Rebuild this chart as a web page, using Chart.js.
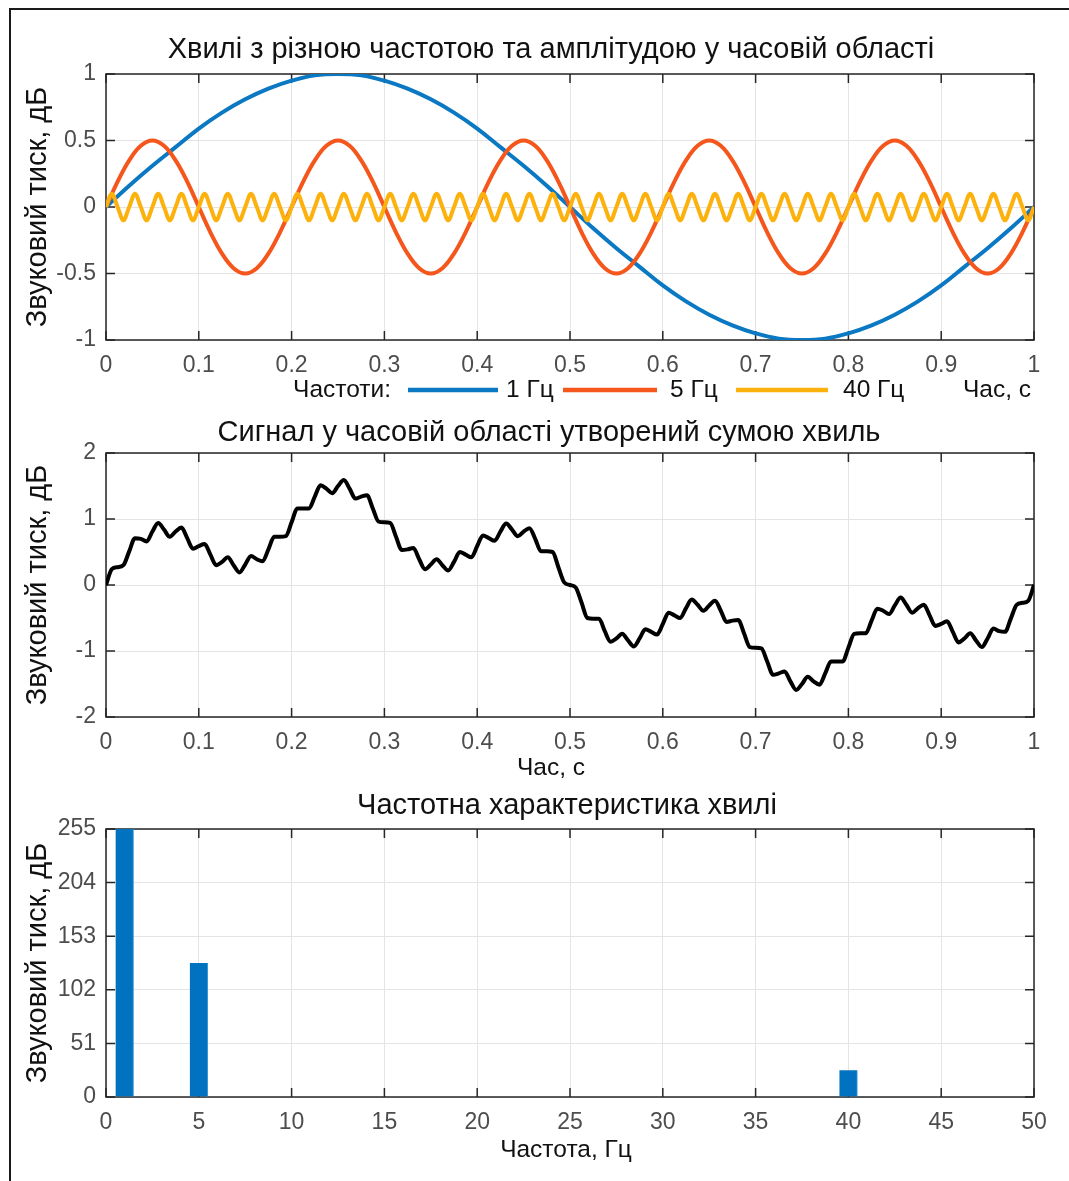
<!DOCTYPE html>
<html>
<head>
<meta charset="utf-8">
<script src="https://cdn.jsdelivr.net/npm/chart.js@4.4.1/dist/chart.umd.min.js"></script>
<style>
  html, body { margin: 0; padding: 0; background: #fff; overflow: hidden; }
  body { width: 1069px; height: 1181px; position: relative; }
  .frame { position: absolute; left: 9px; top: 8px; right: -10px; bottom: -10px;
           border-top: 2px solid #1a1a1a; border-left: 2px solid #1a1a1a; }
  canvas { position: absolute; left: 0; }
  #c1 { top: 0; }
  #c2 { top: 420px; }
  #c3 { top: 790px; }
</style>
</head>
<body>
<div class="frame"></div>
<canvas id="c1" width="1069" height="420"></canvas>
<canvas id="c2" width="1069" height="370"></canvas>
<canvas id="c3" width="1069" height="391"></canvas>
<script>
// хвилі, час 0..1 с
// 1 Гц, крок 0.025 с
const wave1 = [0, 0.16, 0.31, 0.45, 0.59, 0.71, 0.81, 0.89, 0.95, 0.99, 1,
  0.99, 0.95, 0.89, 0.81, 0.71, 0.59, 0.45, 0.31, 0.16, 0,
  -0.16, -0.31, -0.45, -0.59, -0.71, -0.81, -0.89, -0.95, -0.99, -1,
  -0.99, -0.95, -0.89, -0.81, -0.71, -0.59, -0.45, -0.31, -0.16, 0];

// 5 Гц, крок 0.0125 с
const wave5 = [
  0, 0.19, 0.35, 0.46, 0.5, 0.46, 0.35, 0.19, 0, -0.19, -0.35, -0.46, -0.5, -0.46, -0.35, -0.19,
  0, 0.19, 0.35, 0.46, 0.5, 0.46, 0.35, 0.19, 0, -0.19, -0.35, -0.46, -0.5, -0.46, -0.35, -0.19,
  0, 0.19, 0.35, 0.46, 0.5, 0.46, 0.35, 0.19, 0, -0.19, -0.35, -0.46, -0.5, -0.46, -0.35, -0.19,
  0, 0.19, 0.35, 0.46, 0.5, 0.46, 0.35, 0.19, 0, -0.19, -0.35, -0.46, -0.5, -0.46, -0.35, -0.19,
  0, 0.19, 0.35, 0.46, 0.5, 0.46, 0.35, 0.19, 0, -0.19, -0.35, -0.46, -0.5, -0.46, -0.35, -0.19,
  0];

// 40 Гц, крок 1/160 с
const wave40 = [
  0, 0.1, 0, -0.1, 0, 0.1, 0, -0.1, 0, 0.1, 0, -0.1, 0, 0.1, 0, -0.1,
  0, 0.1, 0, -0.1, 0, 0.1, 0, -0.1, 0, 0.1, 0, -0.1, 0, 0.1, 0, -0.1,
  0, 0.1, 0, -0.1, 0, 0.1, 0, -0.1, 0, 0.1, 0, -0.1, 0, 0.1, 0, -0.1,
  0, 0.1, 0, -0.1, 0, 0.1, 0, -0.1, 0, 0.1, 0, -0.1, 0, 0.1, 0, -0.1,
  0, 0.1, 0, -0.1, 0, 0.1, 0, -0.1, 0, 0.1, 0, -0.1, 0, 0.1, 0, -0.1,
  0, 0.1, 0, -0.1, 0, 0.1, 0, -0.1, 0, 0.1, 0, -0.1, 0, 0.1, 0, -0.1,
  0, 0.1, 0, -0.1, 0, 0.1, 0, -0.1, 0, 0.1, 0, -0.1, 0, 0.1, 0, -0.1,
  0, 0.1, 0, -0.1, 0, 0.1, 0, -0.1, 0, 0.1, 0, -0.1, 0, 0.1, 0, -0.1,
  0, 0.1, 0, -0.1, 0, 0.1, 0, -0.1, 0, 0.1, 0, -0.1, 0, 0.1, 0, -0.1,
  0, 0.1, 0, -0.1, 0, 0.1, 0, -0.1, 0, 0.1, 0, -0.1, 0, 0.1, 0, -0.1,
  0];

// сума хвиль, крок 1/160 с
const signal = [
  0, 0.24, 0.27, 0.30, 0.51, 0.71, 0.70, 0.66, 0.81, 0.94, 0.84,
  0.73, 0.81, 0.87, 0.71, 0.55, 0.59, 0.62, 0.46, 0.30, 0.35,
  0.42, 0.30, 0.19, 0.31, 0.44, 0.39, 0.36, 0.54, 0.73, 0.73,
  0.74, 0.95, 1.16, 1.16, 1.16, 1.34, 1.51, 1.46, 1.39, 1.50,
  1.59, 1.46, 1.31, 1.34, 1.36, 1.16, 0.96, 0.95, 0.94, 0.73,
  0.53, 0.54, 0.56, 0.39, 0.24, 0.31, 0.39, 0.30, 0.22, 0.35,
  0.50, 0.46, 0.42, 0.59, 0.75, 0.71, 0.67, 0.81, 0.93, 0.84,
  0.74, 0.81, 0.86, 0.70, 0.51, 0.51, 0.50, 0.27, 0.04, 0,
  -0.04, -0.27, -0.50, -0.51, -0.51, -0.70, -0.86, -0.81, -0.74, -0.84,
  -0.93, -0.81, -0.67, -0.71, -0.75, -0.59, -0.42, -0.46, -0.50, -0.35,
  -0.22, -0.30, -0.39, -0.31, -0.24, -0.39, -0.56, -0.54, -0.53, -0.73,
  -0.94, -0.95, -0.96, -1.16, -1.36, -1.34, -1.31, -1.46, -1.59, -1.50,
  -1.39, -1.46, -1.51, -1.34, -1.16, -1.16, -1.16, -0.95, -0.74, -0.73,
  -0.73, -0.54, -0.36, -0.39, -0.44, -0.31, -0.19, -0.30, -0.42, -0.35,
  -0.30, -0.46, -0.62, -0.59, -0.55, -0.71, -0.87, -0.81, -0.73, -0.84,
  -0.94, -0.81, -0.66, -0.70, -0.71, -0.51, -0.30, -0.27, -0.24, 0];

// спектр
const freqs = [1, 5, 40];
const magnitudes = [255, 127.5, 25.5];

const freqLabels = ['1 Гц', '5 Гц', '40 Гц'];
const timeTicks = [0, 0.1, 0.2, 0.3, 0.4, 0.5, 0.6, 0.7, 0.8, 0.9, 1];
const waveTicks = [-1, -0.5, 0, 0.5, 1];
const signalTicks = [-2, -1, 0, 1, 2];
const freqTicks = [0, 5, 10, 15, 20, 25, 30, 35, 40, 45, 50];
const magTicks = [0, 51, 102, 153, 204, 255];

const FONT = '"Liberation Sans", Arial, Helvetica, sans-serif';
const BLUE = '#0a78c2', ORANGE = '#f4561c', YELLOW = '#fdb10d';
const yTitle = 'Звуковий тиск, дБ';
const TITLE_SIZE = 29;

Chart.defaults.font.family = FONT;
Chart.defaults.color = '#4d4d4d';

const toPoints = vals => vals.map((v, i) => ({ x: i / (vals.length - 1), y: v }));

// рамка осей з внутрішніми рисками
const boxTicks = {
  id: 'boxTicks',
  beforeDatasetsDraw(chart) {
    const { ctx, chartArea: a, scales: { x, y } } = chart;
    ctx.save();
    ctx.strokeStyle = '#262626';
    ctx.lineWidth = 1.5;
    ctx.strokeRect(a.left, a.top, a.right - a.left, a.bottom - a.top);
    ctx.beginPath();
    x.ticks.forEach(t => {
      const px = x.getPixelForValue(t.value);
      ctx.moveTo(px, a.bottom); ctx.lineTo(px, a.bottom - 9);
      ctx.moveTo(px, a.top); ctx.lineTo(px, a.top + 9);
    });
    y.ticks.forEach(t => {
      const py = y.getPixelForValue(t.value);
      ctx.moveTo(a.left, py); ctx.lineTo(a.left + 9, py);
      ctx.moveTo(a.right, py); ctx.lineTo(a.right - 9, py);
    });
    ctx.stroke();
    ctx.restore();
  }
};

function texts(items) {
  return {
    id: 'texts',
    afterDraw(chart) {
      const ctx = chart.ctx;
      ctx.save();
      ctx.textBaseline = 'middle';
      items.forEach(it => {
        ctx.font = it.size + 'px ' + FONT;
        ctx.fillStyle = '#111';
        ctx.textAlign = it.align || 'center';
        ctx.fillText(it.text, it.x, it.y);
      });
      ctx.restore();
    }
  };
}

// легенда першого графіка в один рядок з підписом осі
const legendSlots = [[408, 498, 506], [563, 657, 670], [736, 828, 843]];
const legendRow = {
  id: 'legendRow',
  afterDraw(chart) {
    const ctx = chart.ctx;
    const y = 390;
    ctx.save();
    ctx.font = '24.5px ' + FONT;
    ctx.fillStyle = '#111';
    ctx.textBaseline = 'middle';
    ctx.textAlign = 'right';
    ctx.fillText('Частоти:', 391, y);
    ctx.textAlign = 'left';
    chart.data.datasets.forEach((ds, i) => {
      const [x0, x1, tx] = legendSlots[i];
      ctx.strokeStyle = ds.borderColor;
      ctx.lineWidth = 4.5;
      ctx.beginPath(); ctx.moveTo(x0, y); ctx.lineTo(x1, y); ctx.stroke();
      ctx.fillText(ds.label, tx, y);
    });
    ctx.textAlign = 'right';
    ctx.fillText('Час, с', 1031, y);
    ctx.restore();
  }
};

function xScale(ticks, min, max, height) {
  return {
    type: 'linear', min, max, offset: false,
    afterBuildTicks: s => { s.ticks = ticks.map(v => ({ value: v })); },
    afterFit: s => { s.height = height; },
    grid: { color: '#e4e4e4', drawTicks: false, offset: false },
    border: { display: false },
    ticks: { padding: 12, maxRotation: 0, font: { size: 23 }, color: '#4d4d4d', callback: v => String(v) }
  };
}

function yScale(ticks, min, max) {
  return {
    min, max,
    afterBuildTicks: s => { s.ticks = ticks.map(v => ({ value: v })); },
    afterFit: s => { s.width = 106; },
    grid: { color: '#e4e4e4', drawTicks: false },
    border: { display: false },
    ticks: { padding: 10, font: { size: 23 }, color: '#4d4d4d', callback: v => String(v) },
    title: { display: true, text: yTitle, color: '#111', font: { size: TITLE_SIZE }, padding: { top: 21, bottom: 0 } }
  };
}

const common = {
  responsive: false,
  animation: false,
  elements: { point: { radius: 0 } },
  plugins: { legend: { display: false }, tooltip: { enabled: false } }
};

new Chart(document.getElementById('c1'), {
  type: 'line',
  data: {
    datasets: [
      { label: freqLabels[0], data: toPoints(wave1), borderColor: BLUE, borderWidth: 4, tension: 0.4, order: 3 },
      { label: freqLabels[1], data: toPoints(wave5), borderColor: ORANGE, borderWidth: 4, tension: 0.4, order: 2 },
      { label: freqLabels[2], data: toPoints(wave40), borderColor: YELLOW, borderWidth: 4, cubicInterpolationMode: 'monotone', order: 1 }
    ]
  },
  options: Object.assign({}, common, {
    layout: { padding: { top: 74, right: 35, left: 0, bottom: 0 } },
    scales: { x: xScale(timeTicks, 0, 1, 80), y: yScale(waveTicks, -1, 1) }
  }),
  plugins: [boxTicks, legendRow,
    texts([{ text: 'Хвилі з різною частотою та амплітудою у часовій області', x: 551, y: 50, size: TITLE_SIZE }])]
});

new Chart(document.getElementById('c2'), {
  type: 'line',
  data: {
    datasets: [
      { label: 'Сигнал', data: toPoints(signal), borderColor: '#000', borderWidth: 4, cubicInterpolationMode: 'monotone' }
    ]
  },
  options: Object.assign({}, common, {
    layout: { padding: { top: 33, right: 35, left: 0, bottom: 0 } },
    scales: { x: xScale(timeTicks, 0, 1, 73), y: yScale(signalTicks, -2, 2) }
  }),
  plugins: [boxTicks,
    texts([
      { text: 'Сигнал у часовій області утворений сумою хвиль', x: 549, y: 13, size: TITLE_SIZE },
      { text: 'Час, с', x: 551, y: 348, size: 24.5 }
    ])]
});

new Chart(document.getElementById('c3'), {
  type: 'bar',
  data: {
    datasets: [
      { label: 'Спектр', data: freqs.map((f, i) => ({ x: f, y: magnitudes[i] })),
        backgroundColor: '#0072c0', borderColor: '#3d9fdc', borderWidth: { right: 1 }, borderSkipped: false, barThickness: 18 }
    ]
  },
  options: Object.assign({}, common, {
    layout: { padding: { top: 39, right: 35, left: 0, bottom: 0 } },
    scales: { x: xScale(freqTicks, 0, 50, 84), y: yScale(magTicks, 0, 255) }
  }),
  plugins: [boxTicks,
    texts([
      { text: 'Частотна характеристика хвилі', x: 567, y: 16, size: TITLE_SIZE },
      { text: 'Частота, Гц', x: 566, y: 360, size: 24.5 }
    ])]
});
</script>
</body>
</html>
